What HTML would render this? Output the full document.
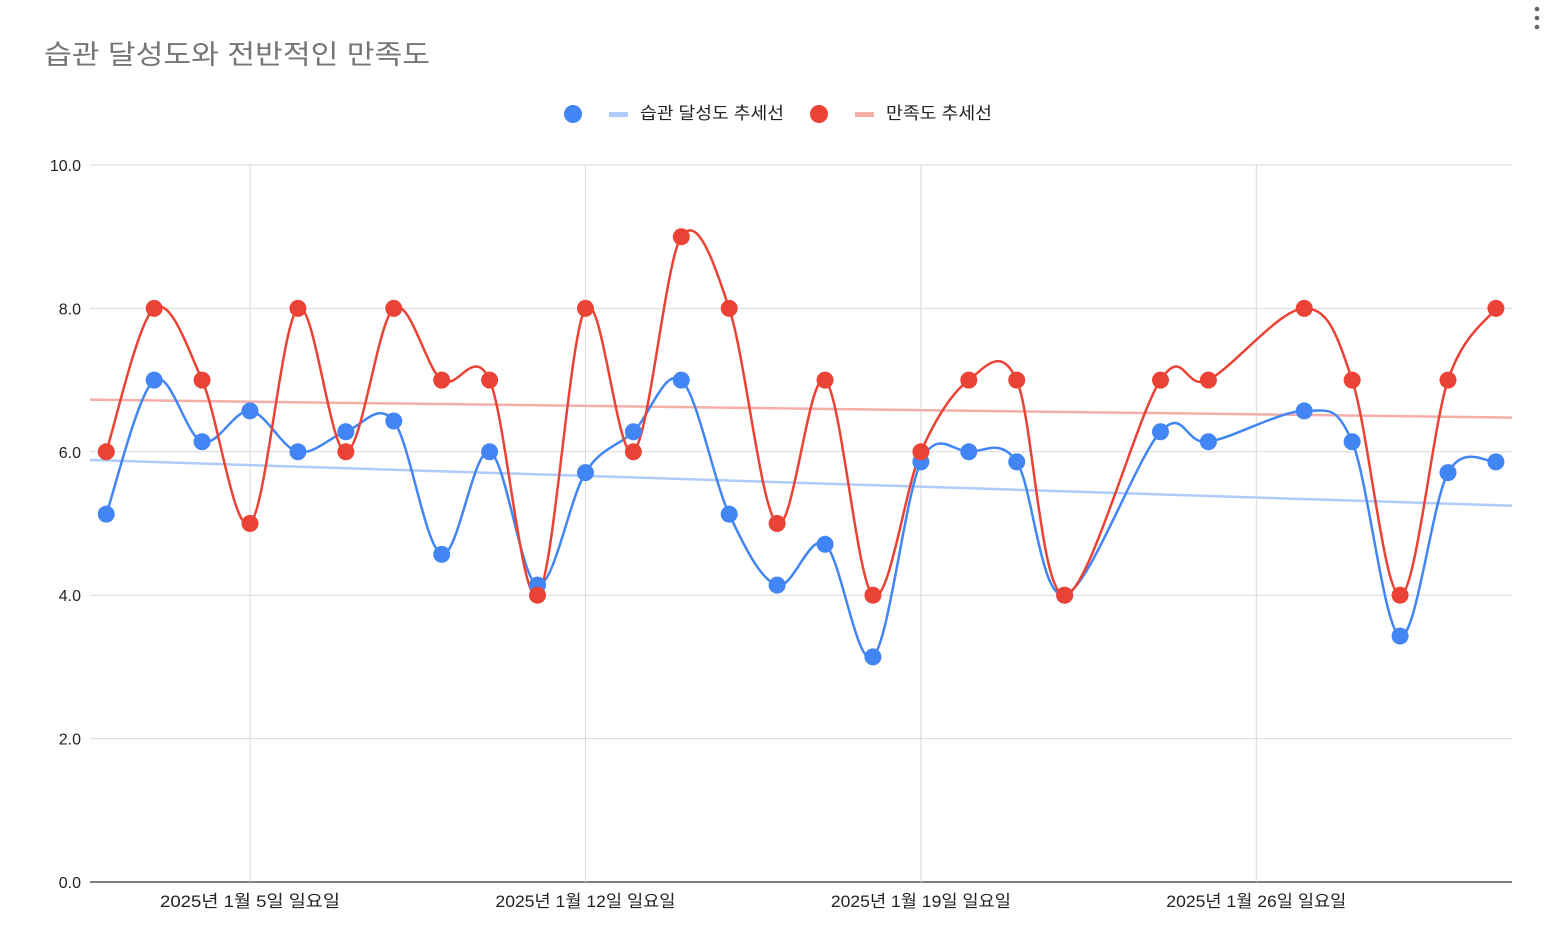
<!DOCTYPE html>
<html><head><meta charset="utf-8"><style>
body{margin:0;background:#fff;font-family:"Liberation Sans","Noto Sans CJK KR",sans-serif;}
svg text{font-family:"Liberation Sans","Noto Sans CJK KR",sans-serif;}
</style></head><body>
<svg id="c" width="1544" height="938">
<text x="44" y="64" font-size="27" fill="#757575" textLength="386" lengthAdjust="spacingAndGlyphs">습관 달성도와 전반적인 만족도</text>
<g><circle cx="1537" cy="9" r="2.3" fill="#666"/><circle cx="1537" cy="18" r="2.3" fill="#666"/><circle cx="1537" cy="27" r="2.3" fill="#666"/></g>
<g>
<circle cx="573" cy="114" r="9" fill="#4285f4"/>
<rect x="609" y="112" width="19" height="5" fill="#aecbfa"/>
<text x="640" y="119" font-size="17" fill="#222" textLength="144" lengthAdjust="spacingAndGlyphs">습관 달성도 추세선</text>
<circle cx="819" cy="114" r="9" fill="#ea4335"/>
<rect x="855" y="112" width="19" height="5" fill="#f6aea9"/>
<text x="886" y="119" font-size="17" fill="#222" textLength="106" lengthAdjust="spacingAndGlyphs">만족도 추세선</text>
</g>
<g id="plot"></g>
</svg>
<script>
const days=[2,3,4,5,6,7,8,9,10,11,12,13,14,15,16,17,18,19,20,21,22,24,25,27,28,29,30,31];
const habit=[5.13,7.0,6.14,6.57,6.0,6.28,6.43,4.57,6.0,4.14,5.71,6.28,7.0,5.13,4.14,4.71,3.14,5.86,6.0,5.86,4.0,6.28,6.14,6.57,6.14,3.43,5.71,5.86];
const satis=[6,8,7,5,8,6,8,7,7,4,8,6,9,8,5,7,4,6,7,7,4,7,7,8,7,4,7,8];
const yTicks=[0,2,4,6,8,10];
const yTickLabels=["0.0","2.0","4.0","6.0","8.0","10.0"];
const xTickDays=[5,12,19,26];
const xTickLabels=["2025년 1월 5일 일요일","2025년 1월 12일 일요일","2025년 1월 19일 일요일","2025년 1월 26일 일요일"];
const L=90,R=1512,T=165,B=882;
const dayMin=1.667,dayMax=31.33;
const X=d=>250+(d-5)*47.92;
const Y=v=>B-(v/10)*(B-T);
const NS="http://www.w3.org/2000/svg";
const g=document.getElementById('plot');
function mk(t,a){const e=document.createElementNS(NS,t);for(const k in a)e.setAttribute(k,a[k]);g.appendChild(e);return e;}
yTicks.forEach((v,i)=>{
 const l=mk('line',{x1:L,x2:R,y1:Y(v),y2:Y(v),stroke:v===0?'#333':'#d9d9d9','stroke-width':v===0?1.3:1});
 
 
 const t=mk('text',{x:81,y:Y(v)+6,'text-anchor':'end','font-size':16,fill:'#222'});
 t.textContent=yTickLabels[i];
 
 
});
xTickDays.forEach((d,i)=>{
 const l=mk('line',{x1:X(d),x2:X(d),y1:T,y2:B,stroke:'#d9d9d9','stroke-width':1});
 
 
 const w=xTickLabels[i].length>18?191:180;
 const t=mk('text',{x:X(d)-w/2,y:907,'font-size':17,fill:'#222',textLength:w,lengthAdjust:'spacingAndGlyphs'});
 t.textContent=xTickLabels[i];
 
 
});
function trend(vals,color,name){
 const n=days.length;let sx=0,sy=0,sxx=0,sxy=0;
 for(let i=0;i<n;i++){sx+=days[i];sy+=vals[i];sxx+=days[i]*days[i];sxy+=days[i]*vals[i];}
 const m=(n*sxy-sx*sy)/(n*sxx-sx*sx),b=(sy-m*sx)/n;
 const l=mk('line',{x1:L,y1:Y(m*dayMin+b),x2:R,y2:Y(m*dayMax+b),stroke:color,'stroke-width':2.5});
 
 
}
function curve(vals,color,name){
 const p=days.map((d,i)=>[X(d),Y(vals[i])]);
 let s=`M${p[0][0]},${p[0][1]}`;
 for(let i=0;i<p.length-1;i++){
  const p0=p[i-1]||p[i],p1=p[i],p2=p[i+1],p3=p[i+2]||p2;
  const c1=[p1[0]+(p2[0]-p0[0])/6,p1[1]+(p2[1]-p0[1])/6];
  const c2=[p2[0]-(p3[0]-p1[0])/6,p2[1]-(p3[1]-p1[1])/6];
  s+=` C${c1[0]},${c1[1]} ${c2[0]},${c2[1]} ${p2[0]},${p2[1]}`;
 }
 const e=mk('path',{d:s,fill:'none',stroke:color,'stroke-width':2.5});
 
 
}
function dots(vals,color,name){
 days.forEach((d,i)=>{
  const c=mk('circle',{cx:X(d),cy:Y(vals[i]),r:8.5,fill:color});
  
  
 });
}
trend(habit,'#aecbfa','habit-trendline');
trend(satis,'#f6aea9','satisfaction-trendline');
curve(habit,'#4285f4','habit');
curve(satis,'#ea4335','satisfaction');
dots(habit,'#4285f4','habit');
dots(satis,'#ea4335','satisfaction');
</script>
</body></html>
